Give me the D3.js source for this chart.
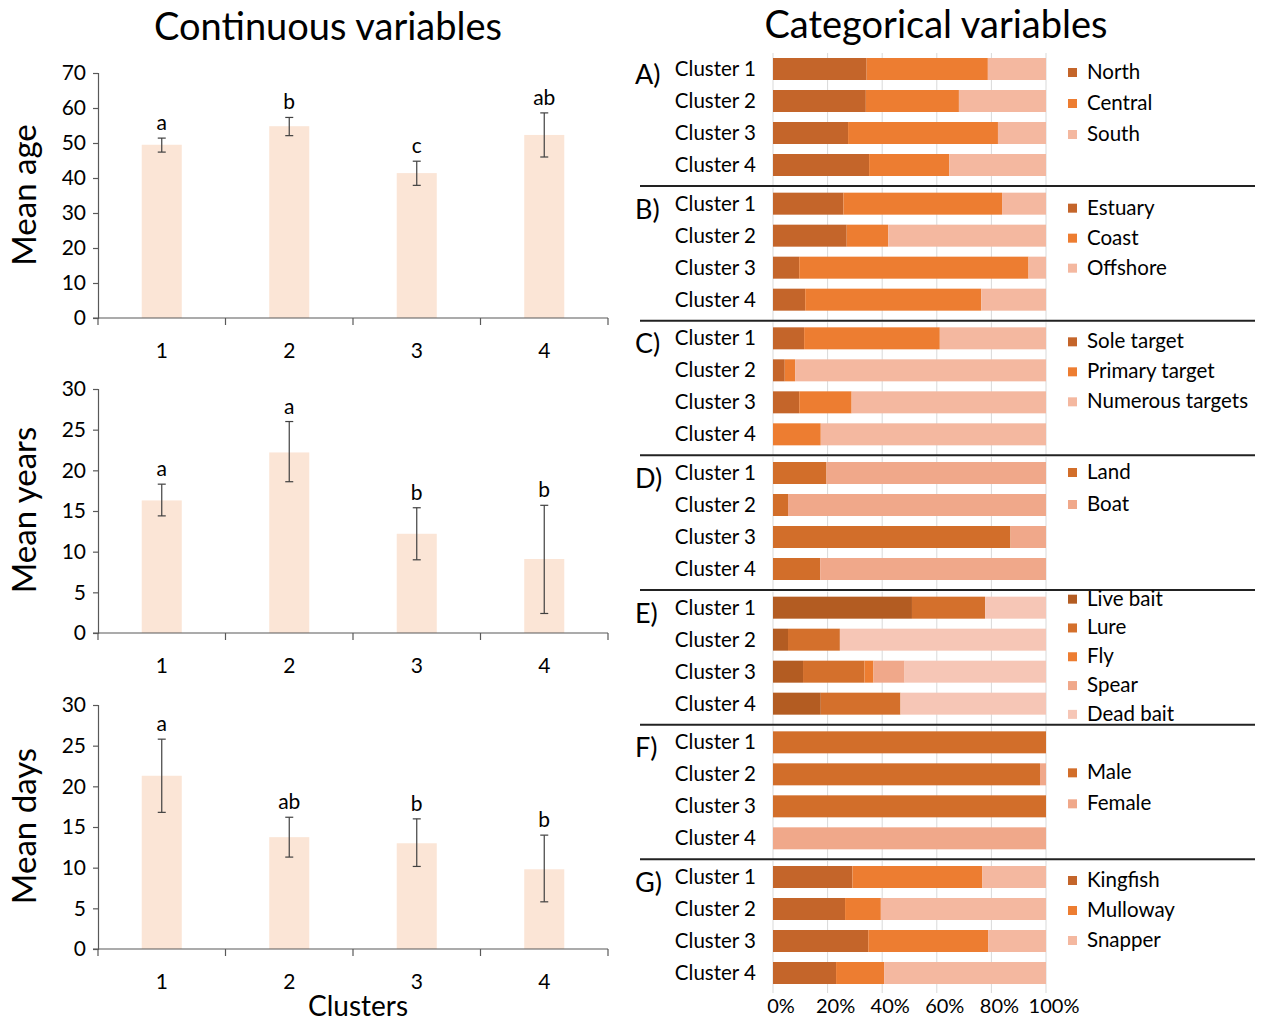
<!DOCTYPE html>
<html>
<head>
<meta charset="utf-8">
<script src="https://cdn.jsdelivr.net/npm/d3@7"></script>
<style>
  html, body { margin: 0; padding: 0; background: #fff; }
  svg { display: block; font-family: Lato, "Open Sans", sans-serif; }
</style>
</head>
<body>
<svg id="chart" width="1265" height="1023"></svg>
<script>
// ---- Continuous variables (means with error bars) ----
const clusterIds = ["1", "2", "3", "4"];

const ageMean = [49.5, 54.8, 41.4, 52.3];
const ageLow  = [47.4, 52.1, 37.9, 46.0];
const ageHigh = [51.4, 57.3, 44.8, 58.6];
const ageSig  = ["a", "b", "c", "ab"];
const ageTicks = [0, 10, 20, 30, 40, 50, 60, 70];

const yearsMean = [16.3, 22.2, 12.2, 9.1];
const yearsLow  = [14.4, 18.6, 9.0, 2.4];
const yearsHigh = [18.3, 26.0, 15.4, 15.7];
const yearsSig  = ["a", "a", "b", "b"];
const yearsTicks = [0, 5, 10, 15, 20, 25, 30];

const daysMean = [21.3, 13.75, 13.0, 9.8];
const daysLow  = [16.8, 11.3, 10.15, 5.8];
const daysHigh = [25.8, 16.2, 16.0, 14.0];
const daysSig  = ["a", "ab", "b", "b"];
const daysTicks = [0, 5, 10, 15, 20, 25, 30];

// ---- Categorical variables (100% stacked bars, percent per cluster) ----
const clusterNames = ["Cluster 1", "Cluster 2", "Cluster 3", "Cluster 4"];

const regionKeys = ["North", "Central", "South"];
const regionPct = [[34.3, 44.4, 21.3], [34.0, 34.1, 31.9], [27.5, 54.9, 17.6], [35.2, 29.4, 35.4]];

const habitatKeys = ["Estuary", "Coast", "Offshore"];
const habitatPct = [[25.8, 58.1, 16.1], [27.0, 15.2, 57.8], [9.6, 84.0, 6.4], [11.8, 64.5, 23.7]];

const targetKeys = ["Sole target", "Primary target", "Numerous targets"];
const targetPct = [[11.4, 49.7, 38.9], [4.3, 3.8, 91.9], [9.6, 19.2, 71.2], [0, 17.5, 82.5]];

const platformKeys = ["Land", "Boat"];
const platformPct = [[19.6, 80.4], [5.5, 94.5], [87.0, 13.0], [17.3, 82.7]];

const methodKeys = ["Live bait", "Lure", "Fly", "Spear", "Dead bait"];
const methodPct = [[50.9, 26.8, 0, 0, 22.3], [5.5, 19.0, 0, 0, 75.5], [11.0, 22.5, 3.3, 11.4, 51.8], [17.5, 29.2, 0, 0, 53.3]];

const genderKeys = ["Male", "Female"];
const genderPct = [[100, 0], [97.8, 2.2], [100, 0], [0, 100]];

const speciesKeys = ["Kingfish", "Mulloway", "Snapper"];
const speciesPct = [[29.1, 47.6, 23.3], [26.4, 13.1, 60.5], [34.9, 43.9, 21.2], [23.1, 17.6, 59.3]];

const pctTicks = [0, 20, 40, 60, 80, 100];

// ---- styling ----
const barFill = "#fbe5d6";
const axisColor = "#595959";
const errColor = "#404040";
const gridColor = "#d9d9d9";

const svg = d3.select("#chart");

// Titles
svg.append("text").attr("x", 328).attr("y", 40).attr("text-anchor", "middle")
  .attr("font-size", 38).attr("fill", "#000").text("Continuous variables");
svg.append("text").attr("x", 936).attr("y", 38).attr("text-anchor", "middle")
  .attr("font-size", 38).attr("fill", "#000").text("Categorical variables");

// One bar panel with error bars and significance letters
function barPanel(cfg) {
  const x = d3.scaleBand().domain(clusterIds).range([98, 608])
    .paddingInner(0.686).paddingOuter(0.343);
  const xEdge = d3.scaleLinear().domain([0, 4]).range([98, 608]);
  const y = d3.scaleLinear().domain([0, cfg.max]).range([cfg.y0, cfg.y1]);
  const g = svg.append("g");

  // bars
  g.selectAll("rect.bar").data(cfg.mean).join("rect")
    .attr("class", "bar")
    .attr("x", (d, i) => x(clusterIds[i]))
    .attr("width", x.bandwidth())
    .attr("y", d => y(d))
    .attr("height", d => y(0) - y(d))
    .attr("fill", barFill);

  // error bars
  const eb = g.selectAll("g.err").data(cfg.mean).join("g").attr("class", "err");
  eb.append("line")
    .attr("x1", (d, i) => x(clusterIds[i]) + x.bandwidth() / 2)
    .attr("x2", (d, i) => x(clusterIds[i]) + x.bandwidth() / 2)
    .attr("y1", (d, i) => y(cfg.low[i]))
    .attr("y2", (d, i) => y(cfg.high[i]))
    .attr("stroke", errColor).attr("stroke-width", 1.2);
  [cfg.low, cfg.high].forEach(arr => {
    eb.append("line")
      .attr("x1", (d, i) => x(clusterIds[i]) + x.bandwidth() / 2 - 4)
      .attr("x2", (d, i) => x(clusterIds[i]) + x.bandwidth() / 2 + 4)
      .attr("y1", (d, i) => y(arr[i]))
      .attr("y2", (d, i) => y(arr[i]))
      .attr("stroke", errColor).attr("stroke-width", 1.2);
  });

  // significance letters
  g.selectAll("text.sig").data(cfg.sig).join("text")
    .attr("class", "sig")
    .attr("x", (d, i) => x(clusterIds[i]) + x.bandwidth() / 2)
    .attr("y", (d, i) => y(cfg.high[i]) - 8)
    .attr("text-anchor", "middle")
    .attr("font-size", 21).attr("fill", "#000")
    .text(d => d);

  // y axis
  const yAxis = g.append("g").attr("transform", "translate(98,0)")
    .call(d3.axisLeft(y).tickValues(cfg.ticks).tickSize(5).tickPadding(7).tickFormat(d3.format("d")));
  yAxis.select(".domain").attr("stroke", axisColor).attr("stroke-width", 1.2);
  yAxis.selectAll(".tick line").attr("stroke", axisColor).attr("stroke-width", 1.2);
  yAxis.selectAll(".tick text").attr("font-size", 21).attr("fill", "#000")
    .attr("font-family", "Lato, 'Open Sans', sans-serif");

  // x axis: line with ticks at category boundaries
  g.append("line").attr("x1", 93).attr("x2", 608).attr("y1", y(0)).attr("y2", y(0))
    .attr("stroke", axisColor).attr("stroke-width", 1.2);
  g.selectAll("line.xt").data(d3.range(5)).join("line").attr("class", "xt")
    .attr("x1", d => xEdge(d)).attr("x2", d => xEdge(d))
    .attr("y1", y(0)).attr("y2", y(0) + 7)
    .attr("stroke", axisColor).attr("stroke-width", 1.2);
  g.selectAll("text.xl").data(clusterIds).join("text").attr("class", "xl")
    .attr("x", d => x(d) + x.bandwidth() / 2)
    .attr("y", y(0) + 40)
    .attr("text-anchor", "middle")
    .attr("font-size", 21).attr("fill", "#000")
    .text(d => d);

  // y axis title
  svg.append("text")
    .attr("transform", `translate(36,${cfg.titleY}) rotate(-90)`)
    .attr("text-anchor", "middle")
    .attr("font-size", 33).attr("fill", "#000")
    .text(cfg.title);
}

barPanel({ mean: ageMean, low: ageLow, high: ageHigh, sig: ageSig, ticks: ageTicks,
  max: 70, y0: 318, y1: 73, title: "Mean age", titleY: 195 });
barPanel({ mean: yearsMean, low: yearsLow, high: yearsHigh, sig: yearsSig, ticks: yearsTicks,
  max: 30, y0: 633, y1: 389, title: "Mean years", titleY: 510 });
barPanel({ mean: daysMean, low: daysLow, high: daysHigh, sig: daysSig, ticks: daysTicks,
  max: 30, y0: 949, y1: 705, title: "Mean days", titleY: 826 });

svg.append("text").attr("x", 358).attr("y", 1016).attr("text-anchor", "middle")
  .attr("font-size", 28).attr("fill", "#000").text("Clusters");

// ---- Stacked percentage panels ----
const px = d3.scaleLinear().domain([0, 100]).range([773, 1046]);

const sections = [
  { label: "A)", keys: regionKeys, pct: regionPct,
    colors: ["#c4652a", "#ed7d31", "#f4b8a0"], legTop: 3, legStep: 31 },
  { label: "B)", keys: habitatKeys, pct: habitatPct,
    colors: ["#c4652a", "#ed7d31", "#f4b8a0"], legTop: 4, legStep: 30 },
  { label: "C)", keys: targetKeys, pct: targetPct,
    colors: ["#c4652a", "#ed7d31", "#f4b8a0"], legTop: 3, legStep: 30 },
  { label: "D)", keys: platformKeys, pct: platformPct,
    colors: ["#d26e2a", "#f0a88a"], legTop: -1, legStep: 32 },
  { label: "E)", keys: methodKeys, pct: methodPct,
    colors: ["#b35c22", "#d4702c", "#ed7d31", "#f0a88a", "#f6c6b6"], legTop: -9, legStep: 28.8 },
  { label: "F)", keys: genderKeys, pct: genderPct,
    colors: ["#d26e2a", "#f0a88a"], legTop: 30, legStep: 31 },
  { label: "G)", keys: speciesKeys, pct: speciesPct,
    colors: ["#c4652a", "#ed7d31", "#f4b8a0"], legTop: 3, legStep: 30 }
];

const sectionStep = (877 - 69) / 6;
const rowStep = 32;
const barH = 22;

sections.forEach((s, si) => {
  const top = 69 + si * sectionStep;
  const rowY = d3.scalePoint().domain(clusterNames).range([top, top + 3 * rowStep]);
  const g = svg.append("g");
  const lastSection = si === sections.length - 1;

  // vertical gridlines
  g.selectAll("line.grid").data(pctTicks).join("line").attr("class", "grid")
    .attr("x1", d => px(d)).attr("x2", d => px(d))
    .attr("y1", top - 16).attr("y2", top + 3 * rowStep + (lastSection ? 20 : 21))
    .attr("stroke", gridColor).attr("stroke-width", 1);

  // stacked segments
  const stackData = s.pct.map((row, ri) => {
    const o = { cluster: clusterNames[ri] };
    s.keys.forEach((k, ki) => { o[k] = row[ki]; });
    return o;
  });
  const series = d3.stack().keys(s.keys)(stackData);
  series.forEach((ser, ki) => {
    g.selectAll(null).data(ser).join("rect")
      .attr("x", d => px(d[0]))
      .attr("width", d => px(d[1]) - px(d[0]))
      .attr("y", d => rowY(d.data.cluster) - barH / 2)
      .attr("height", barH)
      .attr("fill", s.colors[ki]);
  });

  // cluster labels
  g.selectAll("text.cl").data(clusterNames).join("text").attr("class", "cl")
    .attr("x", 756).attr("y", d => rowY(d) + 7)
    .attr("text-anchor", "end")
    .attr("font-size", 20.5).attr("fill", "#000")
    .text(d => d);

  // section letter
  g.append("text").attr("x", 635).attr("y", top + 15)
    .attr("font-size", 27).attr("fill", "#000").text(s.label);

  // legend
  const leg = g.selectAll("g.leg").data(s.keys).join("g").attr("class", "leg")
    .attr("transform", (d, i) => `translate(1068,${top + s.legTop + i * s.legStep})`);
  leg.append("rect").attr("x", 0).attr("y", -4).attr("width", 9).attr("height", 9)
    .attr("fill", (d, i) => s.colors[i]);
  leg.append("text").attr("x", 19).attr("y", 7)
    .attr("font-size", 20.5).attr("fill", "#000").text(d => d);

  // separator line
  if (!lastSection) {
    g.append("line").attr("x1", 640).attr("x2", 1255)
      .attr("y1", top + 3 * rowStep + 21).attr("y2", top + 3 * rowStep + 21)
      .attr("stroke", "#222").attr("stroke-width", 2);
  }
});

// percent axis labels
svg.selectAll("text.pct").data(pctTicks).join("text").attr("class", "pct")
  .attr("x", d => px(d) + 8).attr("y", 1013)
  .attr("text-anchor", "middle")
  .attr("font-size", 20).attr("fill", "#000")
  .text(d => d + "%");
</script>
</body>
</html>
